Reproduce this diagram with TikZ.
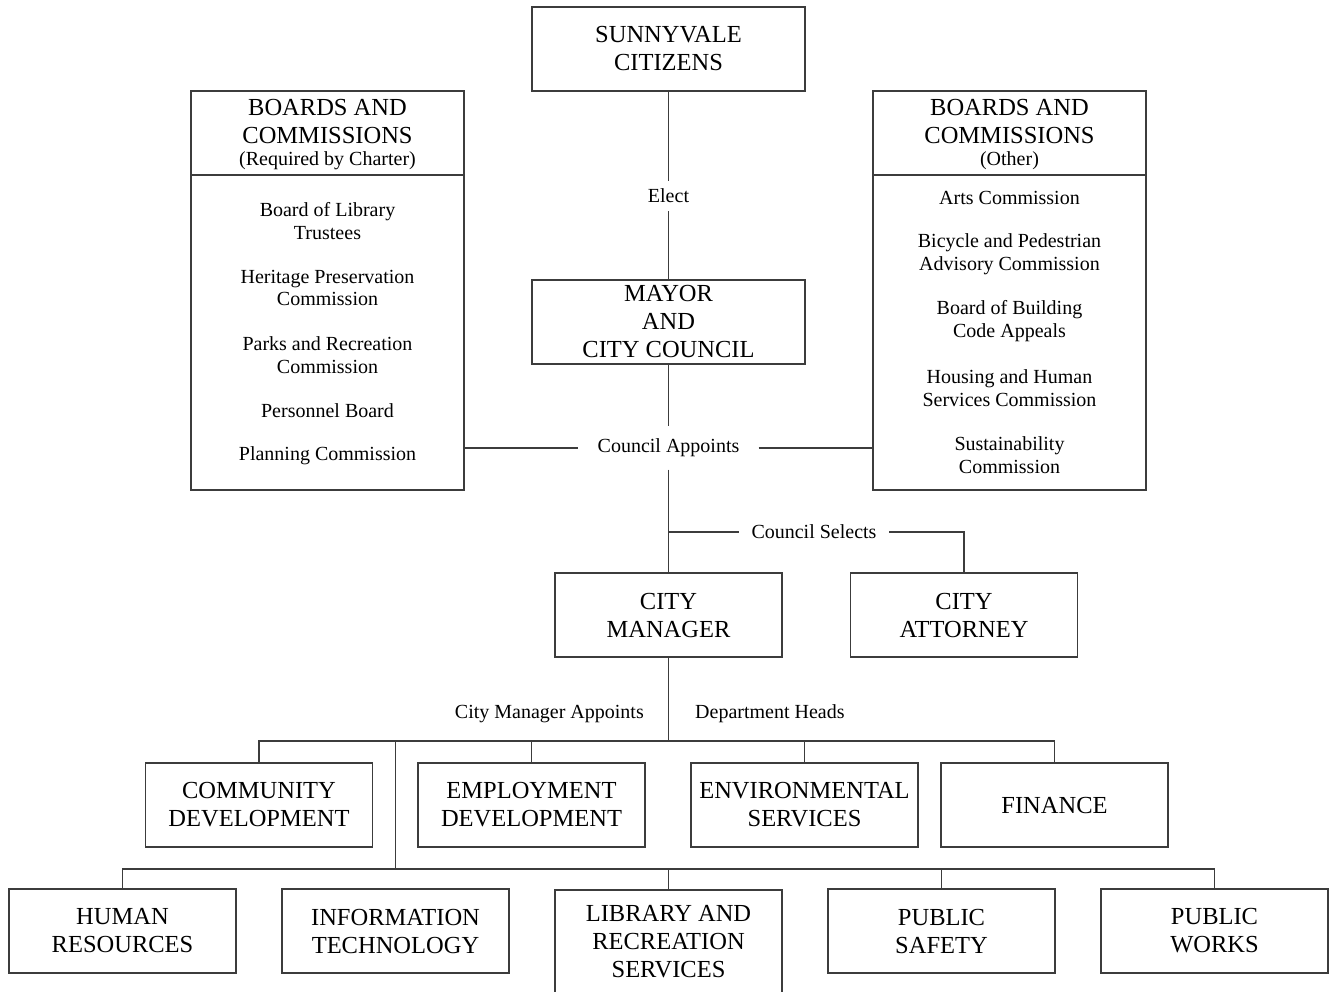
\documentclass[tikz,border=0pt]{standalone}
\usepackage{fontspec}
\setmainfont{Liberation Serif}
\newcommand\BigTxt{\fontsize{24.5}{28}\selectfont}
\newcommand\SmallTxt{\fontsize{20}{22.5}\selectfont}
\definecolor{linegray}{HTML}{3C3C3C}
\begin{document}
\begin{tikzpicture}[x=1pt,y=-1pt,
  line/.style={draw=linegray, line width=1.6pt},
  box/.style={draw=linegray, line width=1.6pt, rectangle, minimum width=227pt, minimum height=84pt, inner sep=0pt, align=center, font=\BigTxt},
  widebox/.style={box, minimum width=273pt},
  boardbox/.style={draw=linegray, line width=1.6pt, rectangle, minimum width=273pt, minimum height=399pt, inner sep=0pt},
  title/.style={align=center, font=\BigTxt, inner sep=0pt},
  item/.style={align=center, font=\SmallTxt, inner sep=0pt},
  lbl/.style={align=center, font=\SmallTxt, inner sep=0pt}
]
\useasboundingbox (0,0) rectangle (1329,991);
\fill[white] (0,0) rectangle (1329,991);

% top boxes
\node[widebox] (sun) at (668.5,49) {SUNNYVALE\\CITIZENS};
\node[widebox] (mayor) at (668.5,322) {MAYOR\\AND\\CITY COUNCIL};

% boards boxes
\node[boardbox] (lb) at (327.5,290.5) {};
\node[boardbox] (rb) at (1009.5,290.5) {};
\coordinate (div) at (0,175);
\draw[line] (lb.west |- div) -- (lb.east |- div);
\draw[line] (rb.west |- div) -- (rb.east |- div);

\node[title] (lbt) at (327.5,122) {BOARDS AND\\COMMISSIONS};
\node[item] (lbs) at (327.5,161) {(Required by Charter)};
\node[title] (rbt) at (1009.5,122) {BOARDS AND\\COMMISSIONS};
\node[item] (rbs) at (1009.5,161) {(Other)};

\node[item] (l1) at (327.5,221) {Board of Library\\Trustees};
\node[item] (l2) at (327.5,288) {Heritage Preservation\\Commission};
\node[item] (l3) at (327.5,355) {Parks and Recreation\\Commission};
\node[item] (l4) at (327.5,411) {Personnel Board};
\node[item] (l5) at (327.5,456) {Planning Commission};

\node[item] (r1) at (1009.5,198) {Arts Commission};
\node[item] (r2) at (1009.5,254) {Bicycle and Pedestrian\\Advisory Commission};
\node[item] (r3) at (1009.5,321) {Board of Building\\Code Appeals};
\node[item] (r4) at (1009.5,388) {Housing and Human\\Services Commission};
\node[item] (r5) at (1009.5,455) {Sustainability\\Commission};

% labels on the trunk
\node[lbl, minimum height=30pt] (el) at (668.5,196) {Elect};
\node[lbl, minimum width=180pt, minimum height=43pt] (ca) at (668.5,448) {Council Appoints};
\node[lbl, minimum width=150pt, minimum height=30pt] (cs) at (814,532) {Council Selects};

% managers
\node[box] (cm) at (668.5,615) {CITY\\MANAGER};
\node[box] (catt) at (964,615) {CITY\\ATTORNEY};

\node[lbl, anchor=east] (cma) at (644,714) {City Manager Appoints};
\node[lbl, anchor=west] (dh) at (695,714) {Department Heads};

% departments row 1
\node[box] (cd) at (259,805) {COMMUNITY\\DEVELOPMENT};
\node[box] (ed) at (531.5,805) {EMPLOYMENT\\DEVELOPMENT};
\node[box] (es) at (804.5,805) {ENVIRONMENTAL\\SERVICES};
\node[box] (fin) at (1054.5,805) {FINANCE};

% departments row 2
\node[box] (hr) at (122.5,931) {HUMAN\\RESOURCES};
\node[box] (it) at (395.5,931) {INFORMATION\\TECHNOLOGY};
\node[box, minimum height=104pt, anchor=north] (lib) at (668.5,889) {LIBRARY AND\\RECREATION\\SERVICES};
\node[box] (ps) at (941.5,931) {PUBLIC\\SAFETY};
\node[box] (pw) at (1214.5,931) {PUBLIC\\WORKS};

% connectors
\draw[line] (sun.south) -- (el.north);
\draw[line] (el.south) -- (mayor.north);
\draw[line] (mayor.south) -- (ca.north);
\draw[line] (lb.east |- ca) -- (ca.west);
\draw[line] (ca.east) -- (rb.west |- ca);
\draw[line] (ca.south) -- (cm.north);
\draw[line] (cm.north |- cs) -- (cs.west);
\draw[line] (cs.east) -| (catt.north);

\coordinate (bus1) at (668.5,741);
\coordinate (bus2) at (668.5,869);
\draw[line] (cm.south) -- (bus1);
\draw[line] (cd.north) -- (cd.north |- bus1) -- (fin.north |- bus1) -- (fin.north);
\draw[line] (ed.north) -- (ed.north |- bus1);
\draw[line] (es.north) -- (es.north |- bus1);
\draw[line] (it.north |- bus1) -- (it.north |- bus2);
\draw[line] (hr.north) -- (hr.north |- bus2) -- (pw.north |- bus2) -- (pw.north);
\draw[line] (lib.north) -- (lib.north |- bus2);
\draw[line] (ps.north) -- (ps.north |- bus2);
\end{tikzpicture}
\end{document}
